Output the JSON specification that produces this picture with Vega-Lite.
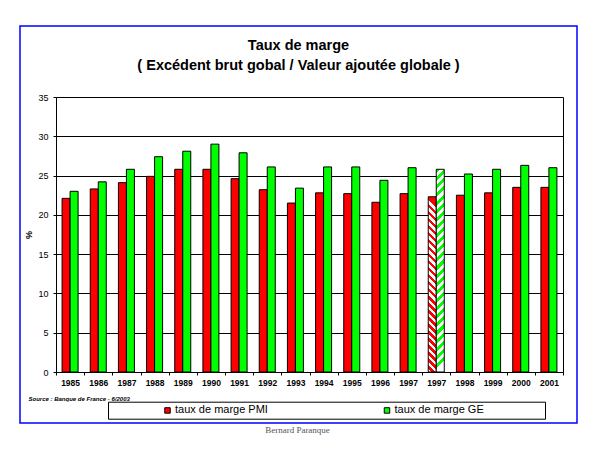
{
  "$schema": "https://vega.github.io/schema/vega-lite/v6.json",
  "width": 557,
  "height": 397,
  "autosize": {"type": "none"},
  "padding": {"left": 20, "top": 26, "right": 23, "bottom": 27},
  "background": "white",
  "config": {
    "font": "Liberation Sans",
    "view": {"stroke": "#0000ff", "strokeWidth": 1.5}
  },
  "title": {
    "text": "Taux de marge",
    "subtitle": "( Excédent brut gobal / Valeur ajoutée globale )",
    "anchor": "middle",
    "frame": "group",
    "offset": -47,
    "fontSize": 14.5,
    "fontWeight": "bold",
    "color": "black",
    "subtitleFont": "Liberation Sans",
    "subtitleFontSize": 14.5,
    "subtitleFontWeight": "bold",
    "subtitleColor": "black",
    "subtitlePadding": 5
  },
  "data": {
    "values": [
      {"annee": "1985", "serie": "taux de marge PMI", "value": 22.1},
      {"annee": "1985", "serie": "taux de marge GE", "value": 23.0},
      {"annee": "1986", "serie": "taux de marge PMI", "value": 23.3},
      {"annee": "1986", "serie": "taux de marge GE", "value": 24.2},
      {"annee": "1987", "serie": "taux de marge PMI", "value": 24.1},
      {"annee": "1987", "serie": "taux de marge GE", "value": 25.8},
      {"annee": "1988", "serie": "taux de marge PMI", "value": 24.9},
      {"annee": "1988", "serie": "taux de marge GE", "value": 27.4},
      {"annee": "1989", "serie": "taux de marge PMI", "value": 25.8},
      {"annee": "1989", "serie": "taux de marge GE", "value": 28.1},
      {"annee": "1990", "serie": "taux de marge PMI", "value": 25.8},
      {"annee": "1990", "serie": "taux de marge GE", "value": 29.0},
      {"annee": "1991", "serie": "taux de marge PMI", "value": 24.6},
      {"annee": "1991", "serie": "taux de marge GE", "value": 27.9},
      {"annee": "1992", "serie": "taux de marge PMI", "value": 23.2},
      {"annee": "1992", "serie": "taux de marge GE", "value": 26.1},
      {"annee": "1993", "serie": "taux de marge PMI", "value": 21.5},
      {"annee": "1993", "serie": "taux de marge GE", "value": 23.4},
      {"annee": "1994", "serie": "taux de marge PMI", "value": 22.8},
      {"annee": "1994", "serie": "taux de marge GE", "value": 26.1},
      {"annee": "1995", "serie": "taux de marge PMI", "value": 22.7},
      {"annee": "1995", "serie": "taux de marge GE", "value": 26.1},
      {"annee": "1996", "serie": "taux de marge PMI", "value": 21.6},
      {"annee": "1996", "serie": "taux de marge GE", "value": 24.4},
      {"annee": "1997", "serie": "taux de marge PMI", "value": 22.7},
      {"annee": "1997", "serie": "taux de marge GE", "value": 26.0},
      {"annee": "1997b", "serie": "taux de marge PMI", "value": 22.3},
      {"annee": "1997b", "serie": "taux de marge GE", "value": 25.8},
      {"annee": "1998", "serie": "taux de marge PMI", "value": 22.5},
      {"annee": "1998", "serie": "taux de marge GE", "value": 25.2},
      {"annee": "1999", "serie": "taux de marge PMI", "value": 22.8},
      {"annee": "1999", "serie": "taux de marge GE", "value": 25.8},
      {"annee": "2000", "serie": "taux de marge PMI", "value": 23.5},
      {"annee": "2000", "serie": "taux de marge GE", "value": 26.3},
      {"annee": "2001", "serie": "taux de marge PMI", "value": 23.5},
      {"annee": "2001", "serie": "taux de marge GE", "value": 26.0}
    ]
  },
  "layer": [
    {
      "mark": {"type": "bar", "stroke": "black", "strokeWidth": 1},
      "encoding": {
        "x": {
          "field": "annee",
          "type": "nominal",
          "sort": null,
          "scale": {"type": "band", "paddingInner": 0, "paddingOuter": 0, "range": [36, 543]},
          "axis": {
            "orient": "bottom",
            "offset": -51,
            "labelExpr": "slice(datum.label, 0, 4)",
            "labelAngle": 0,
            "labelFontSize": 8.5,
            "labelFontWeight": "bold",
            "labelColor": "black",
            "labelPadding": 3,
            "tickSize": 3,
            "tickColor": "black",
            "tickBand": "extent",
            "domainColor": "black",
            "grid": false,
            "title": "Source : Banque de France - 6/2003",
            "titleX": 8,
            "titleY": 26,
            "titleAlign": "left",
            "titleBaseline": "middle",
            "titleFontSize": 6,
            "titleFontWeight": "bold",
            "titleFontStyle": "italic",
            "titleColor": "black"
          }
        },
        "xOffset": {
          "field": "serie",
          "type": "nominal",
          "scale": {"domain": ["taux de marge PMI", "taux de marge GE"], "paddingInner": 0, "paddingOuter": 0.76}
        },
        "y": {
          "field": "value",
          "type": "quantitative",
          "scale": {"domain": [0, 35], "range": [346, 71], "nice": false},
          "axis": {
            "orient": "left",
            "offset": -36,
            "values": [0, 5, 10, 15, 20, 25, 30, 35],
            "grid": true,
            "gridColor": "black",
            "gridOpacity": 1,
            "gridWidth": 1,
            "domainColor": "black",
            "tickColor": "black",
            "tickSize": 3,
            "labelPadding": 5,
            "labelFontSize": 9,
            "labelColor": "black",
            "title": "%",
            "titleX": -28,
            "titleY": 208.5,
            "titleAngle": -90,
            "titleAlign": "center",
            "titleBaseline": "middle",
            "titleFontSize": 9,
            "titleFontWeight": "bold",
            "titleColor": "black"
          }
        },
        "fill": {
          "field": "serie",
          "type": "nominal",
          "scale": {"domain": ["taux de marge PMI", "taux de marge GE"], "range": ["#ff0000", "#00ff00"]},
          "condition": [
            {
              "test": "datum.annee === '1997b' && datum.serie === 'taux de marge PMI'",
              "value": {
                "gradient": "linear", "x1": 0.0457, "y1": 0, "x2": 0, "y2": 1,
                "stops": [
                  {"offset": 0, "color": "#ff0000"}, {"offset": 0.02, "color": "#ff0000"}, {"offset": 0.02, "color": "#ffffff"}, {"offset": 0.04, "color": "#ffffff"},
                  {"offset": 0.04, "color": "#ff0000"}, {"offset": 0.06, "color": "#ff0000"}, {"offset": 0.06, "color": "#ffffff"}, {"offset": 0.08, "color": "#ffffff"},
                  {"offset": 0.08, "color": "#ff0000"}, {"offset": 0.1, "color": "#ff0000"}, {"offset": 0.1, "color": "#ffffff"}, {"offset": 0.12, "color": "#ffffff"},
                  {"offset": 0.12, "color": "#ff0000"}, {"offset": 0.14, "color": "#ff0000"}, {"offset": 0.14, "color": "#ffffff"}, {"offset": 0.16, "color": "#ffffff"},
                  {"offset": 0.16, "color": "#ff0000"}, {"offset": 0.18, "color": "#ff0000"}, {"offset": 0.18, "color": "#ffffff"}, {"offset": 0.2, "color": "#ffffff"},
                  {"offset": 0.2, "color": "#ff0000"}, {"offset": 0.22, "color": "#ff0000"}, {"offset": 0.22, "color": "#ffffff"}, {"offset": 0.24, "color": "#ffffff"},
                  {"offset": 0.24, "color": "#ff0000"}, {"offset": 0.26, "color": "#ff0000"}, {"offset": 0.26, "color": "#ffffff"}, {"offset": 0.28, "color": "#ffffff"},
                  {"offset": 0.28, "color": "#ff0000"}, {"offset": 0.3, "color": "#ff0000"}, {"offset": 0.3, "color": "#ffffff"}, {"offset": 0.32, "color": "#ffffff"},
                  {"offset": 0.32, "color": "#ff0000"}, {"offset": 0.34, "color": "#ff0000"}, {"offset": 0.34, "color": "#ffffff"}, {"offset": 0.36, "color": "#ffffff"},
                  {"offset": 0.36, "color": "#ff0000"}, {"offset": 0.38, "color": "#ff0000"}, {"offset": 0.38, "color": "#ffffff"}, {"offset": 0.4, "color": "#ffffff"},
                  {"offset": 0.4, "color": "#ff0000"}, {"offset": 0.42, "color": "#ff0000"}, {"offset": 0.42, "color": "#ffffff"}, {"offset": 0.44, "color": "#ffffff"},
                  {"offset": 0.44, "color": "#ff0000"}, {"offset": 0.46, "color": "#ff0000"}, {"offset": 0.46, "color": "#ffffff"}, {"offset": 0.48, "color": "#ffffff"},
                  {"offset": 0.48, "color": "#ff0000"}, {"offset": 0.5, "color": "#ff0000"}, {"offset": 0.5, "color": "#ffffff"}, {"offset": 0.52, "color": "#ffffff"},
                  {"offset": 0.52, "color": "#ff0000"}, {"offset": 0.54, "color": "#ff0000"}, {"offset": 0.54, "color": "#ffffff"}, {"offset": 0.56, "color": "#ffffff"},
                  {"offset": 0.56, "color": "#ff0000"}, {"offset": 0.58, "color": "#ff0000"}, {"offset": 0.58, "color": "#ffffff"}, {"offset": 0.6, "color": "#ffffff"},
                  {"offset": 0.6, "color": "#ff0000"}, {"offset": 0.62, "color": "#ff0000"}, {"offset": 0.62, "color": "#ffffff"}, {"offset": 0.64, "color": "#ffffff"},
                  {"offset": 0.64, "color": "#ff0000"}, {"offset": 0.66, "color": "#ff0000"}, {"offset": 0.66, "color": "#ffffff"}, {"offset": 0.68, "color": "#ffffff"},
                  {"offset": 0.68, "color": "#ff0000"}, {"offset": 0.7, "color": "#ff0000"}, {"offset": 0.7, "color": "#ffffff"}, {"offset": 0.72, "color": "#ffffff"},
                  {"offset": 0.72, "color": "#ff0000"}, {"offset": 0.74, "color": "#ff0000"}, {"offset": 0.74, "color": "#ffffff"}, {"offset": 0.76, "color": "#ffffff"},
                  {"offset": 0.76, "color": "#ff0000"}, {"offset": 0.78, "color": "#ff0000"}, {"offset": 0.78, "color": "#ffffff"}, {"offset": 0.8, "color": "#ffffff"},
                  {"offset": 0.8, "color": "#ff0000"}, {"offset": 0.82, "color": "#ff0000"}, {"offset": 0.82, "color": "#ffffff"}, {"offset": 0.84, "color": "#ffffff"},
                  {"offset": 0.84, "color": "#ff0000"}, {"offset": 0.86, "color": "#ff0000"}, {"offset": 0.86, "color": "#ffffff"}, {"offset": 0.88, "color": "#ffffff"},
                  {"offset": 0.88, "color": "#ff0000"}, {"offset": 0.9, "color": "#ff0000"}, {"offset": 0.9, "color": "#ffffff"}, {"offset": 0.92, "color": "#ffffff"},
                  {"offset": 0.92, "color": "#ff0000"}, {"offset": 0.94, "color": "#ff0000"}, {"offset": 0.94, "color": "#ffffff"}, {"offset": 0.96, "color": "#ffffff"},
                  {"offset": 0.96, "color": "#ff0000"}, {"offset": 0.98, "color": "#ff0000"}, {"offset": 0.98, "color": "#ffffff"}, {"offset": 1, "color": "#ffffff"}
                ]
              }
            },
            {
              "test": "datum.annee === '1997b' && datum.serie === 'taux de marge GE'",
              "value": {
                "gradient": "linear", "x1": 0, "y1": 0, "x2": 0.0395, "y2": 1,
                "stops": [
                  {"offset": 0, "color": "#00ff00"}, {"offset": 0.02, "color": "#00ff00"}, {"offset": 0.02, "color": "#ffffff"}, {"offset": 0.04, "color": "#ffffff"},
                  {"offset": 0.04, "color": "#00ff00"}, {"offset": 0.06, "color": "#00ff00"}, {"offset": 0.06, "color": "#ffffff"}, {"offset": 0.08, "color": "#ffffff"},
                  {"offset": 0.08, "color": "#00ff00"}, {"offset": 0.1, "color": "#00ff00"}, {"offset": 0.1, "color": "#ffffff"}, {"offset": 0.12, "color": "#ffffff"},
                  {"offset": 0.12, "color": "#00ff00"}, {"offset": 0.14, "color": "#00ff00"}, {"offset": 0.14, "color": "#ffffff"}, {"offset": 0.16, "color": "#ffffff"},
                  {"offset": 0.16, "color": "#00ff00"}, {"offset": 0.18, "color": "#00ff00"}, {"offset": 0.18, "color": "#ffffff"}, {"offset": 0.2, "color": "#ffffff"},
                  {"offset": 0.2, "color": "#00ff00"}, {"offset": 0.22, "color": "#00ff00"}, {"offset": 0.22, "color": "#ffffff"}, {"offset": 0.24, "color": "#ffffff"},
                  {"offset": 0.24, "color": "#00ff00"}, {"offset": 0.26, "color": "#00ff00"}, {"offset": 0.26, "color": "#ffffff"}, {"offset": 0.28, "color": "#ffffff"},
                  {"offset": 0.28, "color": "#00ff00"}, {"offset": 0.3, "color": "#00ff00"}, {"offset": 0.3, "color": "#ffffff"}, {"offset": 0.32, "color": "#ffffff"},
                  {"offset": 0.32, "color": "#00ff00"}, {"offset": 0.34, "color": "#00ff00"}, {"offset": 0.34, "color": "#ffffff"}, {"offset": 0.36, "color": "#ffffff"},
                  {"offset": 0.36, "color": "#00ff00"}, {"offset": 0.38, "color": "#00ff00"}, {"offset": 0.38, "color": "#ffffff"}, {"offset": 0.4, "color": "#ffffff"},
                  {"offset": 0.4, "color": "#00ff00"}, {"offset": 0.42, "color": "#00ff00"}, {"offset": 0.42, "color": "#ffffff"}, {"offset": 0.44, "color": "#ffffff"},
                  {"offset": 0.44, "color": "#00ff00"}, {"offset": 0.46, "color": "#00ff00"}, {"offset": 0.46, "color": "#ffffff"}, {"offset": 0.48, "color": "#ffffff"},
                  {"offset": 0.48, "color": "#00ff00"}, {"offset": 0.5, "color": "#00ff00"}, {"offset": 0.5, "color": "#ffffff"}, {"offset": 0.52, "color": "#ffffff"},
                  {"offset": 0.52, "color": "#00ff00"}, {"offset": 0.54, "color": "#00ff00"}, {"offset": 0.54, "color": "#ffffff"}, {"offset": 0.56, "color": "#ffffff"},
                  {"offset": 0.56, "color": "#00ff00"}, {"offset": 0.58, "color": "#00ff00"}, {"offset": 0.58, "color": "#ffffff"}, {"offset": 0.6, "color": "#ffffff"},
                  {"offset": 0.6, "color": "#00ff00"}, {"offset": 0.62, "color": "#00ff00"}, {"offset": 0.62, "color": "#ffffff"}, {"offset": 0.64, "color": "#ffffff"},
                  {"offset": 0.64, "color": "#00ff00"}, {"offset": 0.66, "color": "#00ff00"}, {"offset": 0.66, "color": "#ffffff"}, {"offset": 0.68, "color": "#ffffff"},
                  {"offset": 0.68, "color": "#00ff00"}, {"offset": 0.7, "color": "#00ff00"}, {"offset": 0.7, "color": "#ffffff"}, {"offset": 0.72, "color": "#ffffff"},
                  {"offset": 0.72, "color": "#00ff00"}, {"offset": 0.74, "color": "#00ff00"}, {"offset": 0.74, "color": "#ffffff"}, {"offset": 0.76, "color": "#ffffff"},
                  {"offset": 0.76, "color": "#00ff00"}, {"offset": 0.78, "color": "#00ff00"}, {"offset": 0.78, "color": "#ffffff"}, {"offset": 0.8, "color": "#ffffff"},
                  {"offset": 0.8, "color": "#00ff00"}, {"offset": 0.82, "color": "#00ff00"}, {"offset": 0.82, "color": "#ffffff"}, {"offset": 0.84, "color": "#ffffff"},
                  {"offset": 0.84, "color": "#00ff00"}, {"offset": 0.86, "color": "#00ff00"}, {"offset": 0.86, "color": "#ffffff"}, {"offset": 0.88, "color": "#ffffff"},
                  {"offset": 0.88, "color": "#00ff00"}, {"offset": 0.9, "color": "#00ff00"}, {"offset": 0.9, "color": "#ffffff"}, {"offset": 0.92, "color": "#ffffff"},
                  {"offset": 0.92, "color": "#00ff00"}, {"offset": 0.94, "color": "#00ff00"}, {"offset": 0.94, "color": "#ffffff"}, {"offset": 0.96, "color": "#ffffff"},
                  {"offset": 0.96, "color": "#00ff00"}, {"offset": 0.98, "color": "#00ff00"}, {"offset": 0.98, "color": "#ffffff"}, {"offset": 1, "color": "#ffffff"}
                ]
              }
            }
          ],
          "legend": {
            "orient": "none",
            "legendX": 88,
            "legendY": 375.7,
            "direction": "horizontal",
            "title": "\u200b\u00a0\u00a0\u00a0\u00a0\u00a0\u00a0\u00a0\u00a0\u00a0\u00a0\u00a0\u00a0\u00a0\u00a0\u00a0\u00a0\u200b",
            "titleOrient": "left",
            "titlePadding": 2,
            "titleFontSize": 11,
            "strokeColor": "black",
            "fillColor": "white",
            "padding": 3,
            "symbolType": "square",
            "symbolSize": 30,
            "symbolStrokeColor": "black",
            "symbolStrokeWidth": 1,
            "symbolOpacity": 1,
            "labelFontSize": 11,
            "labelColor": "black",
            "labelOffset": 2,
            "labelLimit": 300,
            "columnPadding": 113.5,
            "labelExpr": "datum.label === 'taux de marge GE' ? datum.label + '\u00a0\u00a0\u00a0\u00a0\u00a0\u00a0\u00a0\u00a0\u00a0\u00a0\u00a0\u00a0\u00a0\u00a0\u00a0\u00a0\u00a0\u00a0\u00a0\u200b' : datum.label"
          }
        }
      }
    },
    {
      "mark": {"type": "rule", "opacity": 0},
      "encoding": {
        "y": {
          "field": "value",
          "type": "quantitative",
          "axis": {
            "orient": "right",
            "offset": -14,
            "grid": false,
            "ticks": false,
            "labels": false,
            "domainColor": "black",
            "title": "Bernard Paranque",
            "titleAngle": 0,
            "titleX": -266,
            "titleY": 403,
            "titleAlign": "center",
            "titleBaseline": "middle",
            "titleFont": "Liberation Serif",
            "titleFontSize": 9,
            "titleFontWeight": "normal",
            "titleColor": "#555555"
          }
        }
      }
    }
  ],
  "resolve": {"axis": {"y": "independent"}}
}
